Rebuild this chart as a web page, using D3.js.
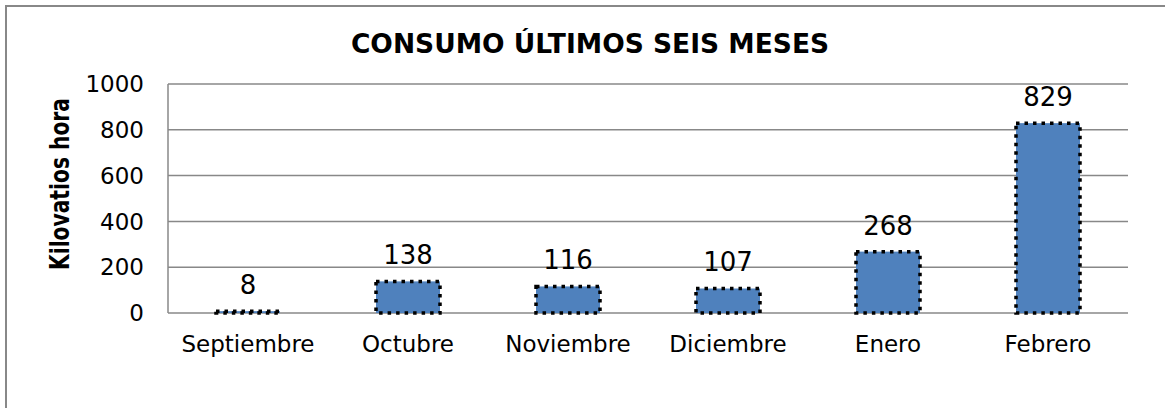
<!DOCTYPE html>
<html>
<head>
<meta charset="utf-8">
<script src="https://cdn.jsdelivr.net/npm/d3@7"></script>
<style>
  body { margin: 0; background: #fff; }
  svg { display: block; }
</style>
</head>
<body>
<svg id="chart" width="1165" height="408"></svg>
<script>
const TITLE = "CONSUMO ÚLTIMOS SEIS MESES";
const Y_LABEL = "Kilovatios hora";
const months = ["Septiembre", "Octubre", "Noviembre", "Diciembre", "Enero", "Febrero"];
const consumo = [8, 138, 116, 107, 268, 829];
const yTicks = [0, 200, 400, 600, 800, 1000];

const margin = { top: 84, right: 37, bottom: 95, left: 168 },
    width = 1165,
    height = 408,
    innerW = width - margin.left - margin.right,
    innerH = height - margin.top - margin.bottom;

const svg = d3.select("#chart");

// outer chart border (only top/left visible)
svg.append("rect")
    .attr("x", 6).attr("y", 6)
    .attr("width", 1200).attr("height", 500)
    .attr("fill", "none")
    .attr("stroke", "#888")
    .attr("stroke-width", 2);

svg.append("text")
    .attr("x", 590).attr("y", 53)
    .attr("text-anchor", "middle")
    .style("font-family", "DejaVu Sans")
    .style("font-weight", "bold")
    .style("font-size", "26.5px")
    .text(TITLE);

const x = d3.scaleBand()
    .domain(months)
    .range([0, innerW])
    .paddingInner(0.6)
    .paddingOuter(0.3);

const y = d3.scaleLinear()
    .domain([0, 1000])
    .range([innerH, 0]);

const g = svg.append("g")
    .attr("transform", `translate(${margin.left},${margin.top})`);

// gridlines
g.append("g")
  .selectAll("line")
  .data(yTicks)
  .join("line")
    .attr("x1", 0).attr("x2", innerW)
    .attr("y1", d => y(d)).attr("y2", d => y(d))
    .attr("stroke", "#888")
    .attr("stroke-width", 1.5);

g.append("line")
    .attr("x1", 0).attr("x2", 0)
    .attr("y1", 0).attr("y2", innerH)
    .attr("stroke", "#888")
    .attr("stroke-width", 1.5);

// y tick labels
g.append("g")
  .selectAll("text")
  .data(yTicks)
  .join("text")
    .attr("x", -24)
    .attr("y", d => y(d))
    .attr("dy", "0.36em")
    .attr("text-anchor", "end")
    .style("font-family", "DejaVu Sans")
    .style("font-size", "23px")
    .text(d => d);

// bars
g.append("g")
  .selectAll("rect")
  .data(consumo)
  .join("rect")
    .attr("x", (d, i) => x(months[i]))
    .attr("y", d => y(d))
    .attr("width", x.bandwidth())
    .attr("height", d => innerH - y(d))
    .attr("fill", "#4F81BD")
    .attr("stroke", "#000")
    .attr("stroke-width", 3.5)
    .attr("stroke-dasharray", "3.5,5");

// data labels
g.append("g")
  .selectAll("text")
  .data(consumo)
  .join("text")
    .attr("x", (d, i) => x(months[i]) + x.bandwidth() / 2)
    .attr("y", d => y(d) - 17)
    .attr("text-anchor", "middle")
    .style("font-family", "DejaVu Sans")
    .style("font-size", "26px")
    .text(d => d);

// category labels
g.append("g")
  .selectAll("text")
  .data(months)
  .join("text")
    .attr("x", d => x(d) + x.bandwidth() / 2)
    .attr("y", innerH + 39)
    .attr("text-anchor", "middle")
    .style("font-family", "DejaVu Sans")
    .style("font-size", "23px")
    .text(d => d);

// y axis title (heavy, squeezed)
svg.append("text")
    .attr("transform", "translate(69,184) rotate(-90)")
    .attr("text-anchor", "middle")
    .attr("textLength", 172)
    .attr("lengthAdjust", "spacingAndGlyphs")
    .style("font-family", "DejaVu Sans")
    .style("font-weight", "bold")
    .style("font-size", "27px")
    .text(Y_LABEL);
</script>
</body>
</html>
